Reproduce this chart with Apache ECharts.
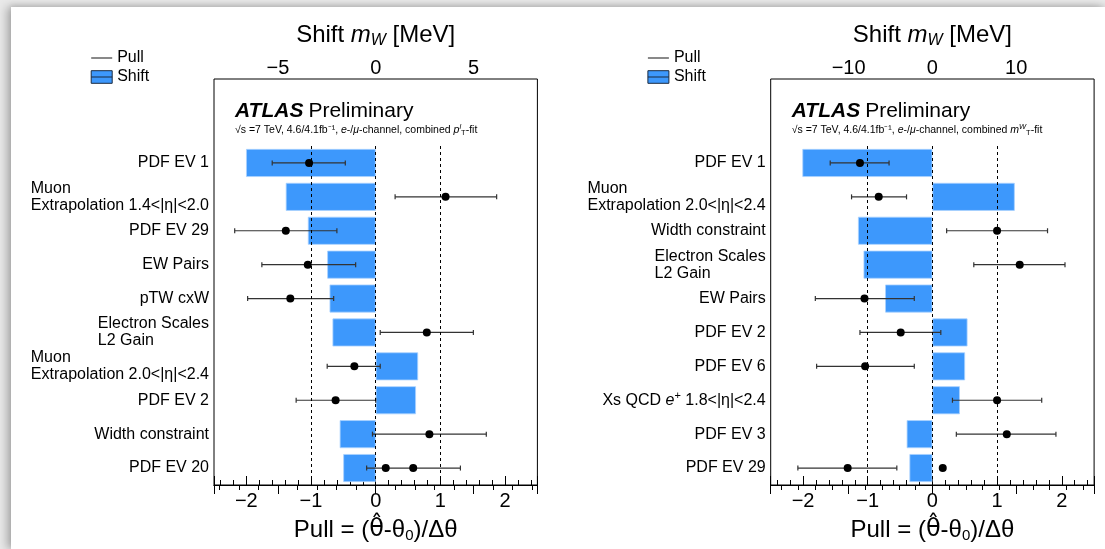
<!DOCTYPE html>
<html><head><meta charset="utf-8">
<script src="https://cdn.jsdelivr.net/npm/echarts@6/dist/echarts.min.js"></script>
<style>
html,body{margin:0;padding:0;width:1105px;height:549px;overflow:hidden;background:#e9e9e9;}
#sheet{position:absolute;left:11px;top:7px;width:1094px;height:542px;background:#fff;box-shadow:-4px 0 9px rgba(0,0,0,0.28),0 -2px 5px rgba(0,0,0,0.08);}
#chart{position:absolute;left:0;top:0;width:1105px;height:549px;}
</style></head><body>
<div id="sheet"></div><div id="chart"></div>
<script>
// ---------- data ----------
const leftCategories = ["PDF EV 1", "Muon\nExtrapolation 1.4<|η|<2.0", "PDF EV 29", "EW Pairs", "pTW cxW",
  "Electron Scales\nL2 Gain", "Muon\nExtrapolation 2.0<|η|<2.4", "PDF EV 2", "Width constraint", "PDF EV 20"];
const leftShift = [-6.63, -4.60, -3.47, -2.48, -2.36, -2.21, 2.17, 2.06, -1.84, -1.66];
const leftPull = [-1.03, 1.08, -1.39, -1.05, -1.32, 0.79, -0.33, -0.62, 0.83, 0.58];
const leftPullLow = [-1.60, 0.30, -2.18, -1.76, -1.98, 0.07, -0.75, -1.23, -0.05, -0.14];
const leftPullHigh = [-0.47, 1.87, -0.60, -0.31, -0.65, 1.51, 0.07, 0.00, 1.71, 1.31];
const leftExtraPull = [0.155];
const leftExtraRow = ["PDF EV 20"];

const rightCategories = ["PDF EV 1", "Muon\nExtrapolation 2.0<|η|<2.4", "Width constraint", "Electron Scales\nL2 Gain",
  "EW Pairs", "PDF EV 2", "PDF EV 6", "Xs QCD e⁺ 1.8<|η|<2.4", "PDF EV 3", "PDF EV 29"];
const rightShift = [-15.52, 9.83, -8.88, -8.22, -5.64, 4.19, 3.90, 3.28, -3.07, -2.74];
const rightPull = [-1.12, -0.83, 1.00, 1.35, -1.05, -0.49, -1.04, 1.00, 1.15, -1.31];
const rightPullLow = [-1.58, -1.25, 0.22, 0.64, -1.81, -1.12, -1.79, 0.31, 0.37, -2.08];
const rightPullHigh = [-0.67, -0.40, 1.78, 2.05, -0.28, 0.13, -0.28, 1.69, 1.91, -0.55];
const rightExtraPull = [0.16];
const rightExtraRow = ["PDF EV 29"];

const pullRange = [-2.5, 2.5];
const leftShiftRange = [-8.27, 8.27];
const rightShiftRange = [-19.3, 19.3];
const pullRefLines = [-1, 0, 1];
const leftSubtitleFit = "{i|p}{sup|l}{sub|T}-fit";
const rightSubtitleFit = "{i|m}{sup|W}{sub|T}-fit";

// ---------- styling ----------
const FONT = "Liberation Sans";
const BAR = "#3d98fc";

function num(v) { const r = Math.round(v); return (r < 0 ? "\u2212" + Math.abs(r) : String(r)); }
function tickFmt(step) {
  return function (v) {
    const r = Math.round(v);
    if (Math.abs(v - r) > 1e-6 || r % step !== 0) return "";
    return num(r);
  };
}
function catFmt(v) {
  if (v.indexOf("\n") >= 0) return v.split("\n").map(s => "{l|" + s + "}").join("\n");
  if (v.indexOf("e⁺") >= 0) return v.replace("e⁺", "{it|e}{sp|+}");
  return v;
}
function errRender(params, api) {
  const y = api.value(2);
  const p1 = api.coord([api.value(0), y]);
  const p2 = api.coord([api.value(1), y]);
  const c = 2.5, st = { stroke: "#333", lineWidth: 1.2 };
  return { type: "group", children: [
    { type: "line", shape: { x1: p1[0], y1: p1[1], x2: p2[0], y2: p2[1] }, style: st },
    { type: "line", shape: { x1: p1[0], y1: p1[1] - c, x2: p1[0], y2: p1[1] + c }, style: st },
    { type: "line", shape: { x1: p2[0], y1: p2[1] - c, x2: p2[0], y2: p2[1] + c }, style: st }
  ]};
}

const grid = [], xAxis = [], yAxis = [], series = [], title = [], legend = [];

function panel(k, left, cats, shift, pull, lo, hi, exPull, exRow, shiftRange, shiftSplit, shiftStep, fitText) {
  const W = 323.4;
  const gA = grid.length;
  grid.push({ left: left, width: W, top: 146, bottom: 64, containLabel: false, outerBoundsMode: "none" });
  grid.push({ left: left, width: W, top: 79, bottom: 64, show: true, borderColor: "#000", borderWidth: 1,
    backgroundColor: "transparent", containLabel: false, outerBoundsMode: "none" });
  const xPull = xAxis.length;
  xAxis.push({ gridIndex: gA, type: "value", position: "bottom", min: pullRange[0], max: pullRange[1], splitNumber: 5,
    axisLine: { show: true, lineStyle: { color: "#000", width: 1 } },
    axisTick: { show: true, inside: true, length: 9, lineStyle: { color: "#000" } },
    minorTick: { show: true, splitNumber: 5, length: 5, lineStyle: { color: "#000" } },
    splitLine: { show: false },
    axisLabel: { fontSize: 20, color: "#000", fontFamily: FONT, margin: 6, formatter: tickFmt(1) },
    name: "Pull = ({h|θ\u0302}-θ{sub|0})/Δθ", nameLocation: "middle", nameGap: 30, nameMoveOverlap: false,
    nameTextStyle: { fontSize: 24, color: "#000", fontFamily: FONT, lineHeight: 30,
      rich: { sub: { fontSize: 15, lineHeight: 15, padding: [12, 0, 0, 0], fontFamily: FONT, color: "#000" },
              h: { fontSize: 24, lineHeight: 30, fontFamily: "DejaVu Sans", color: "#000" } } }
  });
  const xShiftH = xAxis.length;
  xAxis.push({ gridIndex: gA, type: "value", position: "top", show: false, min: shiftRange[0], max: shiftRange[1] });
  xAxis.push({ gridIndex: gA + 1, type: "value", position: "top", min: shiftRange[0], max: shiftRange[1], splitNumber: shiftSplit,
    axisLine: { show: true, lineStyle: { color: "#000", width: 1 } },
    axisTick: { show: true, inside: true, length: 9, lineStyle: { color: "#000" } },
    minorTick: { show: true, splitNumber: 5, length: 5, lineStyle: { color: "#000" } },
    splitLine: { show: false },
    axisLabel: { fontSize: 20, color: "#000", fontFamily: FONT, margin: 1, formatter: tickFmt(shiftStep) },
    name: "Shift {i|m}{sub|W} [MeV]", nameLocation: "middle", nameGap: 29, nameMoveOverlap: false,
    nameTextStyle: { fontSize: 24, color: "#000", fontFamily: FONT, lineHeight: 30,
      rich: { i: { fontSize: 24, fontStyle: "italic", fontFamily: FONT, color: "#000", lineHeight: 30 },
              sub: { fontSize: 16, lineHeight: 16, fontStyle: "italic", padding: [12, 0, 0, 0], fontFamily: FONT, color: "#000" } } }
  });
  const yCat = yAxis.length;
  yAxis.push({ gridIndex: gA, type: "category", inverse: true, data: cats,
    axisLine: { show: false }, axisTick: { show: false }, splitLine: { show: false },
    axisLabel: { interval: 0, fontSize: 16, color: "#000", fontFamily: FONT, margin: 5, formatter: catFmt,
      rich: { l: { align: "left", fontSize: 16, lineHeight: 17, color: "#000", fontFamily: FONT },
              it: { fontSize: 16, fontStyle: "italic", color: "#000", fontFamily: FONT },
              sp: { fontSize: 11, padding: [0, 0, 8, 0], color: "#000", fontFamily: FONT } } }
  });
  yAxis.push({ gridIndex: gA + 1, type: "value", show: false, min: 0, max: 1 });

  series.push({ type: "bar", name: "Shift", xAxisIndex: xShiftH, yAxisIndex: yCat, data: shift, barWidth: 28,
    itemStyle: { color: BAR, borderColor: "#a9d2ff", borderWidth: 0.8, opacity: 1 }, z: 1, silent: true });
  series.push({ type: "custom", name: "PullError", xAxisIndex: xPull, yAxisIndex: yCat, z: 3, silent: true,
    renderItem: errRender, encode: { x: [0, 1], y: 2 },
    data: pull.map((p, i) => [lo[i], hi[i], i]) });
  const pts = pull.map((p, i) => [p, i]);
  exPull.forEach((p, j) => pts.push([p, cats.indexOf(exRow[j])]));
  series.push({ type: "scatter", name: "Pull", xAxisIndex: xPull, yAxisIndex: yCat, z: 4, silent: true,
    symbolSize: 8, itemStyle: { color: "#000", opacity: 1 }, data: pts,
    markLine: { silent: true, symbol: "none", label: { show: false },
      lineStyle: { type: [3, 3], color: "#000", width: 1, opacity: 1 },
      data: pullRefLines.map(v => ({ xAxis: v })) } });

  title.push({ left: left + 21, top: 101, padding: 0, itemGap: 1,
    text: "{b|ATLAS} {r|Preliminary}",
    textStyle: { fontWeight: "normal", rich: { b: { fontSize: 21, fontWeight: "bold", fontStyle: "italic", color: "#000", fontFamily: FONT },
                         r: { fontSize: 21, fontWeight: "normal", color: "#000", fontFamily: FONT } } },
    subtext: "√s =7 TeV, 4.6/4.1fb⁻¹, {i|e}-/{i|μ}-channel, combined " + fitText,
    subtextStyle: { fontSize: 10.5, color: "#000", fontFamily: FONT,
      rich: { i: { fontSize: 10.5, fontStyle: "italic", color: "#000", fontFamily: FONT },
              sup: { fontSize: 7.5, padding: [0, 0, 6, 0], fontStyle: "italic", color: "#000", fontFamily: FONT },
              sub: { fontSize: 7.5, padding: [6, 0, 0, 0], color: "#000", fontFamily: FONT } } }
  });
  legend.push({ left: left - 123.3, top: 50, orient: "vertical", itemWidth: 21, itemHeight: 13, itemGap: 3,
    selectedMode: false, symbolKeepAspect: true, padding: 0,
    textStyle: { fontSize: 16, color: "#000", fontFamily: FONT },
    data: [
      { name: "Pull", icon: "path://M0,0H20V1.2H0Z", itemStyle: { color: "#444", borderWidth: 0, opacity: 1 } },
      { name: "Shift", icon: "path://M0,0H20V12H0ZM0,6H20", itemStyle: { color: BAR, borderColor: "#1b2b40", borderWidth: 1, opacity: 1 } }
    ] });
}

panel(0, 214, leftCategories, leftShift, leftPull, leftPullLow, leftPullHigh, leftExtraPull, leftExtraRow,
  leftShiftRange, 3, 5, leftSubtitleFit);
panel(1, 770.7, rightCategories, rightShift, rightPull, rightPullLow, rightPullHigh, rightExtraPull, rightExtraRow,
  rightShiftRange, 4, 10, rightSubtitleFit);

const chart = echarts.init(document.getElementById("chart"), null, { renderer: "canvas" });
chart.setOption({
  animation: false,
  backgroundColor: "transparent",
  textStyle: { fontFamily: FONT, color: "#000" },
  grid: grid, xAxis: xAxis, yAxis: yAxis, series: series, title: title, legend: legend
});
</script>
</body></html>
